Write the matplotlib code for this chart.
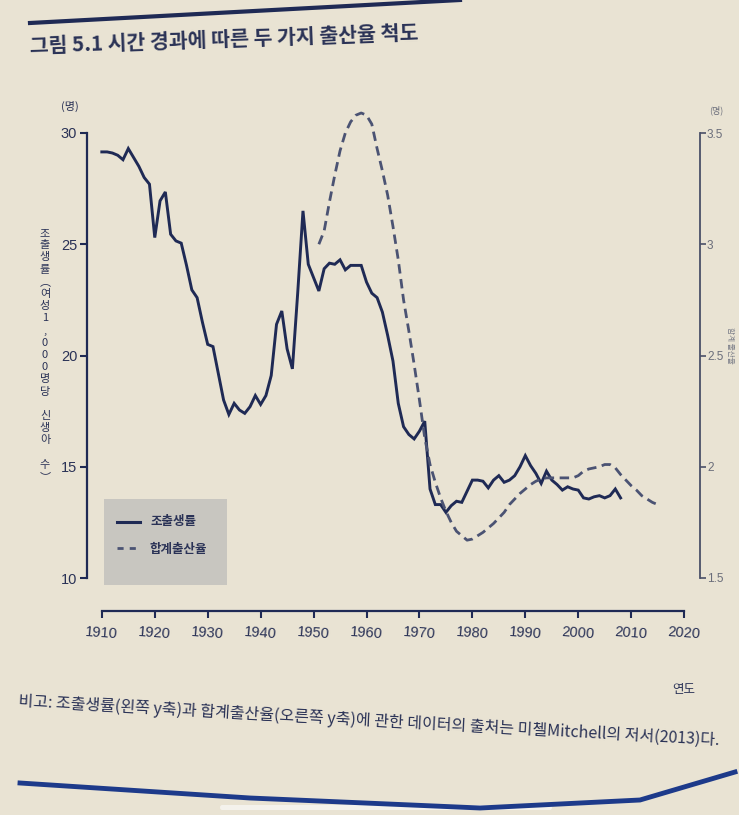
import matplotlib
matplotlib.use("Agg")
import matplotlib.pyplot as plt
from matplotlib.lines import Line2D
from matplotlib.patches import Rectangle, FancyBboxPatch

# crude birth rate (per 1,000 women), left axis
cbr_years = list(range(1910, 2009))
cbr_values = [
    29.15, 29.15, 29.1, 29.0, 28.8, 29.3, 28.9, 28.5, 28.0, 27.7,
    25.3, 26.95, 27.35, 25.45, 25.15, 25.05, 24.05, 22.95, 22.6, 21.5,
    20.5, 20.4, 19.2, 18.0, 17.35, 17.85, 17.55, 17.4, 17.7, 18.2,
    17.8, 18.2, 19.1, 21.4, 22.0, 20.3, 19.4, 22.8, 26.5, 24.1,
    23.5, 22.9, 23.9, 24.15, 24.1, 24.3, 23.85, 24.05, 24.05, 24.05,
    23.3, 22.8, 22.6, 21.95, 20.9, 19.75, 17.85, 16.8, 16.45, 16.25,
    16.6, 17.05, 14.0, 13.3, 13.3, 12.95, 13.25, 13.45, 13.4, 13.9,
    14.4, 14.4, 14.35, 14.05, 14.4, 14.6, 14.3, 14.4, 14.6, 15.0,
    15.5, 15.05, 14.7, 14.25, 14.8, 14.4, 14.2, 13.95, 14.1, 14.0,
    13.95, 13.6, 13.55, 13.65, 13.7, 13.6, 13.7, 14.0, 13.6,
]

# total fertility rate, right axis
tfr_years = list(range(1951, 2016))
tfr_values = [
    3.0, 3.06, 3.19, 3.31, 3.42, 3.50, 3.55, 3.58, 3.59,
    3.58, 3.54, 3.43, 3.33, 3.22, 3.08, 2.93, 2.75, 2.61, 2.46,
    2.30, 2.13, 2.01, 1.93, 1.86, 1.80, 1.75, 1.71, 1.69, 1.67,
    1.675, 1.69, 1.705, 1.725, 1.745, 1.77, 1.795, 1.83, 1.855, 1.88,
    1.90, 1.92, 1.935, 1.945, 1.95, 1.95, 1.95, 1.95, 1.95, 1.95,
    1.96, 1.98, 1.99, 1.995, 2.0, 2.01, 2.01, 1.995, 1.965, 1.94,
    1.915, 1.895, 1.87, 1.855, 1.84, 1.83,
]

x_ticks = list(range(1910, 2021, 10))
left_ticks = [10, 15, 20, 25, 30]
right_ticks = [1.5, 2, 2.5, 3, 3.5]
right_labels = ["1.5", "2", "2.5", "3", "3.5"]

title = "그림 5.1 시간 경과에 따른 두 가지 출산율 척도"
note = "비고: 조출생률(왼쪽 y축)과 합계출산율(오른쪽 y축)에 관한 데이터의 출처는 미첼Mitchell의 저서(2013)다."
left_label = "조출생률︵여성1,000명당 신생아 수︶"
right_label = "합계 출산율"
legend_labels = ["조출생률", "합계출산율"]

BG = "#e9e3d3"
NAVY = "#1f2a55"
DASH = "#4b5373"
TXT = "#2a3256"

W, H = 739, 815
KR = ["Noto Sans CJK KR", "DejaVu Sans"]
NARROW = ["Liberation Sans Narrow", "Liberation Sans", "DejaVu Sans"]


def fx(px):
    return px / W


def fy(py):
    return 1 - py / H


fig = plt.figure(figsize=(W / 100, H / 100), dpi=100, facecolor=BG)
ax = fig.add_axes([fx(87), fy(578), fx(700 - 87), (578 - 133) / H])
ax.set_facecolor("none")
ax2 = ax.twinx()

ax.plot(cbr_years, cbr_values, color=NAVY, lw=2.1, clip_on=False,
        solid_joinstyle="miter")
ax2.plot(tfr_years, tfr_values, color=DASH, lw=2.0, ls=(0, (3.4, 2.0)),
         clip_on=False)

ax.set_xlim(1907.2, 2023.0)
ax.set_ylim(10, 30)
ax2.set_ylim(1.5, 3.5)

for a in (ax, ax2):
    a.spines["top"].set_visible(False)
    for s in a.spines.values():
        s.set_color(NAVY)
        s.set_linewidth(1.6)

ax.spines["right"].set_visible(False)
ax2.spines["left"].set_visible(False)
ax2.spines["bottom"].set_visible(False)
ax2.spines["right"].set_color("#4a5068")
ax2.spines["right"].set_linewidth(1.3)
ax.spines["left"].set_bounds(10, 30)
ax2.spines["right"].set_bounds(1.5, 3.5)
ax.spines["bottom"].set_bounds(1910, 2020)
ax.spines["bottom"].set_position(("outward", 24))

ax.set_xticks(x_ticks)
ax.set_xticklabels([str(y) for y in x_ticks], rotation=-4,
                   family=NARROW, fontsize=10.5, color=TXT)
ax.set_yticks(left_ticks)
ax.set_yticklabels([str(v) for v in left_ticks], family=NARROW,
                   fontsize=10.5, color=TXT)
ax2.set_yticks(right_ticks)
ax2.set_yticklabels(right_labels, family=NARROW, fontsize=8.5, color="#6a6d7a")
ax.tick_params(axis="both", direction="out", length=5, width=1.5,
               color=NAVY, pad=2)
ax.tick_params(axis="x", pad=5)
ax2.tick_params(axis="y", direction="out", length=4, width=1.2,
                color="#4a5068", pad=1)

# axis unit labels
fig.text(fx(70), fy(106), "(명)", family=KR, fontsize=8, color=TXT,
         ha="center", va="center")
fig.text(fx(716), fy(110), "(명)", family=KR, fontsize=6.5, color="#6a6d7a",
         ha="center", va="center")
fig.text(fx(684), fy(690), "연도", family=KR, fontsize=9, color=TXT,
         ha="center", va="center")
fig.text(fx(730), fy(345), right_label, family=KR, fontsize=5.5,
         color="#777a86", rotation=270, ha="center", va="center")

# vertical stacked left label
top, bottom = 233, 477
step = (bottom - top) / (len(left_label) - 1)
for i, ch in enumerate(left_label):
    if ch == " ":
        continue
    fig.text(fx(45), fy(top + i * step), ch, family=KR, fontsize=8,
             color=TXT, ha="center", va="center")

# legend box
fig.patches.append(Rectangle((fx(104), fy(585)), fx(227 - 104),
                             (585 - 499) / H, transform=fig.transFigure,
                             facecolor="#c8c6c0", edgecolor="none", zorder=0))
fig.lines.append(Line2D([fx(117), fx(140)], [fy(522), fy(522)],
                        transform=fig.transFigure, color=NAVY, lw=2.2))
fig.lines.append(Line2D([fx(117), fx(140)], [fy(548), fy(548)],
                        transform=fig.transFigure, color=DASH, lw=2.0,
                        ls=(0, (2.2, 2.2))))
fig.text(fx(150), fy(522), legend_labels[0], family=KR, fontsize=9,
         fontweight="bold", color=TXT, va="center")
fig.text(fx(150), fy(549), legend_labels[1], family=KR, fontsize=9,
         fontweight="bold", color=TXT, va="center")

# title and rules
fig.lines.append(Line2D([fx(30), fx(460)], [fy(23), fy(0)],
                        transform=fig.transFigure, color=NAVY, lw=3))
fig.text(fx(30), fy(53), title, family=KR, fontsize=14.8, fontweight="bold",
         color=TXT, ha="left", va="baseline", rotation=2,
         rotation_mode="anchor")

fig.text(fx(18), fy(706), note, family=KR, fontsize=11.5, color=TXT,
         fontweight="medium", ha="left", va="baseline", rotation=-3.2,
         rotation_mode="anchor")
fig.lines.append(Line2D([fx(20), fx(250), fx(480), fx(640), fx(735)],
                        [fy(783), fy(798), fy(808), fy(800), fy(772)],
                        transform=fig.transFigure, color="#1d3a8a", lw=3.5))

# phone scroll indicator
fig.patches.append(FancyBboxPatch((fx(220), fy(810)), fx(552 - 220), 5 / H,
                                  boxstyle="round,pad=0,rounding_size=0.003",
                                  transform=fig.transFigure,
                                  facecolor="#f4f2ec", edgecolor="none"))

fig.savefig("out.png", dpi=100, facecolor=BG)
plt.close("all")
